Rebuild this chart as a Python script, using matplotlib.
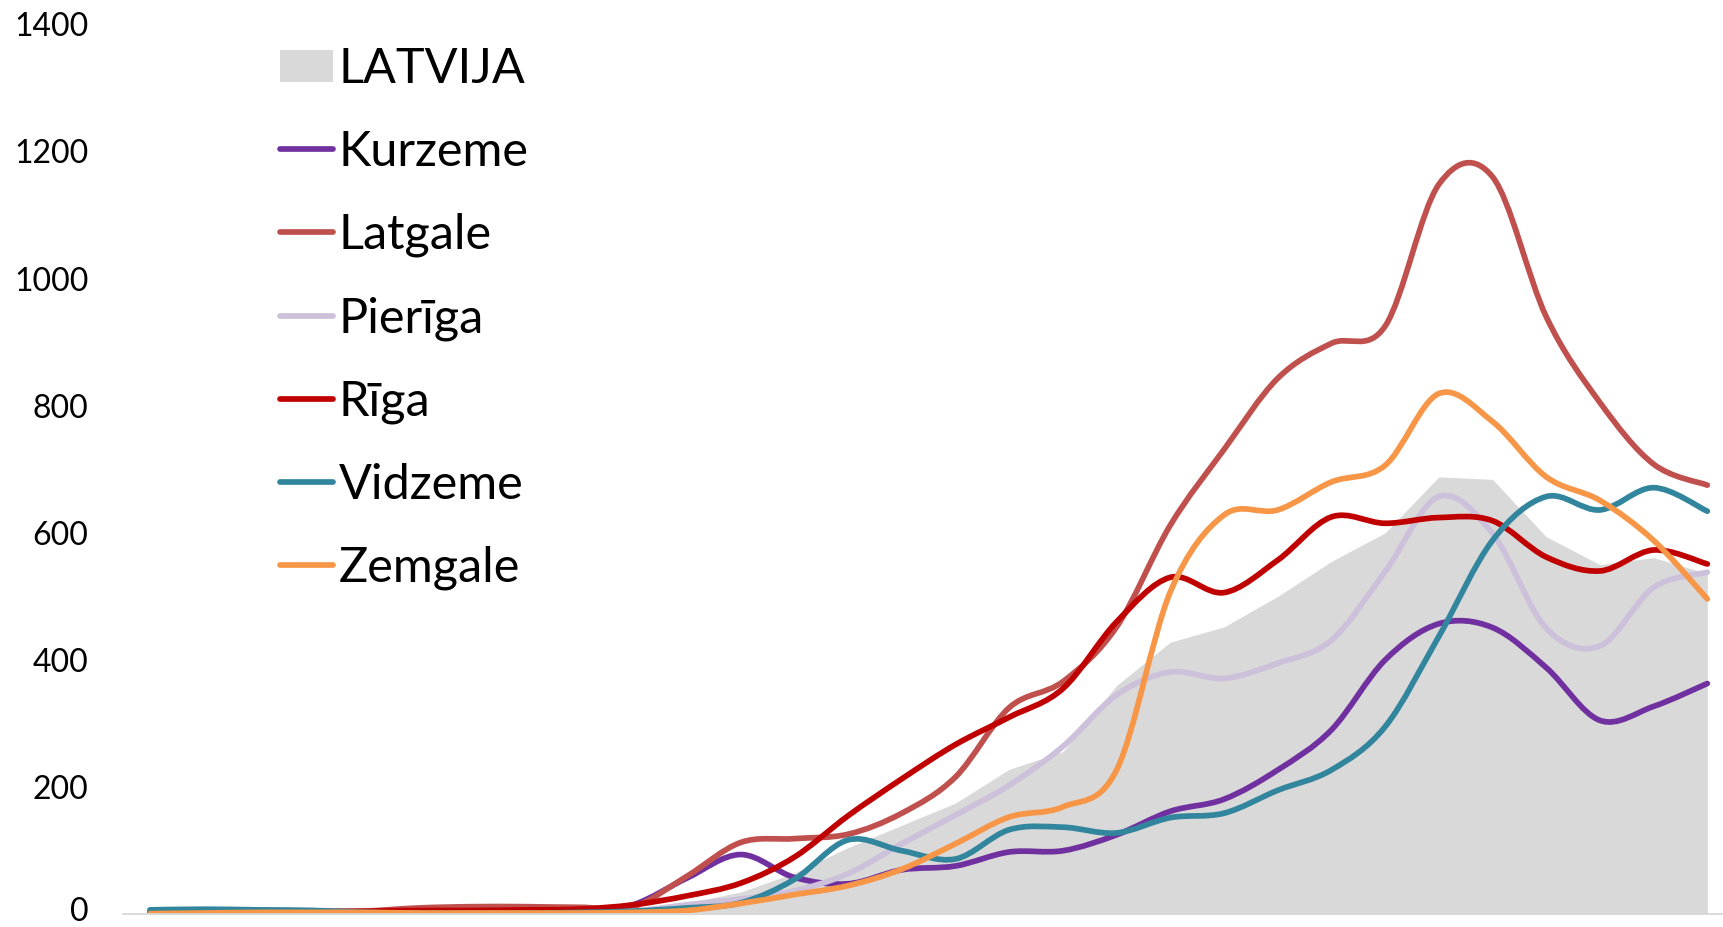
import numpy as np
import matplotlib
matplotlib.use("Agg")
import matplotlib.pyplot as plt
from matplotlib.path import Path
from matplotlib.patches import PathPatch, Patch
from matplotlib.lines import Line2D
from matplotlib.transforms import ScaledTranslation

plt.rcParams['font.family'] = ['Lato', 'DejaVu Sans']

# ---- data ----
periods = list(range(30))
latvija = [2, 3, 3, 3, 3, 3, 3, 3, 4, 7, 18, 35, 65, 105, 140, 175, 228, 256, 360, 428,
           452, 500, 555, 600, 688, 684, 594, 550, 561, 536]
kurzeme = [1, 1, 1, 1, 1, 1, 1, 1, 2, 15, 57, 94, 58, 48, 70, 76, 98, 100, 125, 162,
           181, 227, 290, 400, 457, 451, 388, 305, 327, 363]
latgale = [3, 3, 3, 3, 5, 10, 12, 12, 11, 12, 60, 113, 119, 126, 159, 216, 325, 366, 452, 612,
           731, 843, 898, 925, 1148, 1160, 940, 805, 708, 675]
pieriga = [6, 7, 7, 6, 5, 4, 3, 3, 3, 5, 15, 24, 37, 64, 111, 156, 203, 264, 345, 381,
           371, 395, 431, 539, 657, 599, 450, 422, 514, 538]
riga = [3, 2, 3, 4, 5, 6, 6, 7, 8, 15, 29, 49, 90, 155, 213, 267, 310, 355, 460, 530,
        506, 557, 625, 615, 624, 619, 562, 540, 573, 551]
vidzeme = [7, 8, 7, 6, 3, 2, 2, 2, 3, 5, 10, 18, 55, 117, 100, 87, 133, 137, 128, 152,
           159, 195, 227, 295, 437, 588, 657, 636, 671, 634]
zemgale = [1, 2, 3, 3, 3, 2, 2, 2, 2, 3, 6, 17, 31, 45, 71, 111, 153, 169, 227, 507,
           628, 636, 680, 706, 819, 775, 688, 651, 588, 496]

series_names = ['Kurzeme', 'Latgale', 'Pierīga', 'Rīga', 'Vidzeme', 'Zemgale']
series_values = [kurzeme, latgale, pieriga, riga, vidzeme, zemgale]
series_colors = ['#7030A0', '#C0504D', '#CCC0DA', '#C00000', '#31859C', '#F79646']
area_name = 'LATVIJA'
area_color = '#D9D9D9'
yticks = [0, 200, 400, 600, 800, 1000, 1200, 1400]


def smooth_path(xs, ys):
    pts = np.column_stack([np.asarray(xs, float), np.asarray(ys, float)])
    n = len(pts)
    verts = [pts[0]]
    codes = [Path.MOVETO]
    for i in range(n - 1):
        p0 = pts[i - 1] if i > 0 else pts[i]
        p1 = pts[i]
        p2 = pts[i + 1]
        p3 = pts[i + 2] if i + 2 < n else pts[i + 1]
        c1 = p1 + (p2 - p0) / 6.0
        c2 = p2 - (p3 - p1) / 6.0
        verts += [c1, c2, p2]
        codes += [Path.CURVE4] * 3
    return Path(verts, codes)


W, H = 1723, 927
fig = plt.figure(figsize=(W / 100, H / 100), dpi=100)
left = 123.15 / W
width = 30 * 53.7 / W
bottom = (H - 914.3) / H
height = (914.3 - 24.2) / H
ax = fig.add_axes([left, bottom, width, height])

ax.fill_between(periods, 0, latvija, color=area_color, lw=0, zorder=1)

lw = 4.1
for vals, col in zip(series_values, series_colors):
    path = smooth_path(periods, vals)
    ax.add_patch(PathPatch(path, facecolor='none', edgecolor=col, lw=lw,
                           capstyle='round', joinstyle='round', zorder=2))

ax.set_xlim(-0.5, 29.5)
ax.set_ylim(0, 1400)
ax.set_xticks([])
ax.set_yticks(yticks)
ax.set_yticklabels([str(v) for v in yticks])
ax.tick_params(axis='y', length=0, pad=25, labelsize=23, labelcolor='black')
for s in ['top', 'right', 'left']:
    ax.spines[s].set_visible(False)
ax.spines['bottom'].set_color('#D9D9D9')
ax.spines['bottom'].set_linewidth(1.3)

# keep the "0" label inside the canvas
zero_lbl = ax.get_yticklabels()[0]
zero_lbl.set_transform(zero_lbl.get_transform() +
                       ScaledTranslation(0, 4 / 72, fig.dpi_scale_trans))

handles = [Patch(facecolor=area_color, edgecolor='none')]
labels = [area_name]
for name, col in zip(series_names, series_colors):
    handles.append(Line2D([0], [0], color=col, lw=lw, solid_capstyle='round'))
    labels.append(name)

leg = fig.legend(handles, labels, loc='upper left',
                 bbox_to_anchor=(280 / W, (H - 47) / H),
                 bbox_transform=fig.transFigure,
                 frameon=False, fontsize=35, borderpad=0, borderaxespad=0,
                 handlelength=1.08, handleheight=0.64, handletextpad=0.13,
                 labelspacing=0.80)

fig.savefig('out.png', dpi=100)
